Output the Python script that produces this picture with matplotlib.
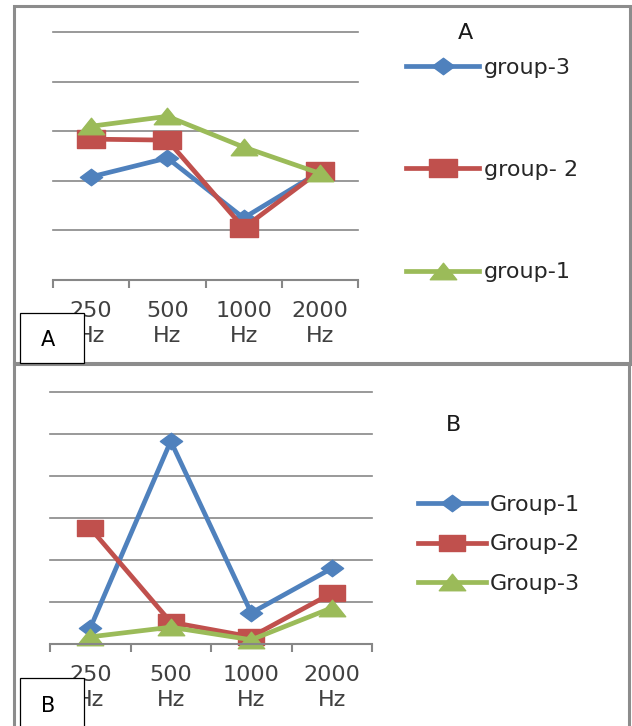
import matplotlib
matplotlib.use("Agg")
import matplotlib.pyplot as plt
from matplotlib.patches import Rectangle
from matplotlib.path import Path

# ---------------- data ----------------
categories = ["250\nHz", "500\nHz", "1000\nHz", "2000\nHz"]

labels_a = ["group-3", "group- 2", "group-1"]
group3_a = [2.08, 2.46, 1.25, 2.18]
group2_a = [2.84, 2.82, 1.05, 2.20]
group1_a = [3.10, 3.30, 2.68, 2.15]

labels_b = ["Group-1", "Group-2", "Group-3"]
group1_b = [0.38, 4.83, 0.74, 1.80]
group2_b = [2.76, 0.52, 0.17, 1.21]
group3_b = [0.17, 0.40, 0.10, 0.86]

# ---------------- style ----------------
W, H = 632, 726
BLUE, RED, GREEN = "#4F81BD", "#C0504D", "#9BBB59"
GRID = "#878787"
FS = 16

diamond = Path([(0, 1), (1.35, 0), (0, -1), (-1.35, 0), (0, 1)],
               [Path.MOVETO, Path.LINETO, Path.LINETO, Path.LINETO, Path.CLOSEPOLY])
square = Path([(-1.6, -1), (1.6, -1), (1.6, 1), (-1.6, 1), (-1.6, -1)],
              [Path.MOVETO, Path.LINETO, Path.LINETO, Path.LINETO, Path.CLOSEPOLY])
triangle = Path([(0, 1), (1.6, -1), (-1.6, -1), (0, 1)],
                [Path.MOVETO, Path.LINETO, Path.LINETO, Path.CLOSEPOLY])


def fx(px):
    return px / W


def fy(py):
    return 1 - py / H


fig = plt.figure(figsize=(W / 100, H / 100), dpi=100)
plt.rcParams["font.family"] = ["DejaVu Sans"]

# panel borders
fig.patches.append(Rectangle((fx(14), fy(364)), fx(630) - fx(14), fy(6) - fy(364),
                             transform=fig.transFigure, fill=False,
                             edgecolor="#8c8c8c", linewidth=2.2, zorder=0))
fig.patches.append(Rectangle((fx(14), fy(740)), fx(629) - fx(14), fy(363) - fy(740),
                             transform=fig.transFigure, fill=False,
                             edgecolor="#8c8c8c", linewidth=2.2, zorder=0))


def style_axes(ax, ymax):
    x = list(range(len(categories)))
    ax.set_xlim(-0.5, len(categories) - 0.5)
    ax.set_ylim(0, ymax)
    ax.set_yticks(range(1, ymax + 1))
    ax.yaxis.grid(True, color=GRID, linewidth=1.2)
    for gl in ax.get_ygridlines():
        gl.set_clip_on(False)
    ax.set_axisbelow(True)
    ax.tick_params(axis="y", left=False, labelleft=False)
    for s in ("top", "left", "right"):
        ax.spines[s].set_visible(False)
    ax.spines["bottom"].set_color(GRID)
    ax.spines["bottom"].set_linewidth(1.5)
    ax.set_xticks(x)
    ax.set_xticklabels(categories, fontsize=FS, color="#404040", linespacing=1.35)
    ax.tick_params(axis="x", which="major", length=0, pad=15)
    ax.set_xticks([i - 0.5 for i in range(len(categories) + 1)], minor=True)
    ax.tick_params(axis="x", which="minor", length=6, width=1.5, color=GRID, direction="out")
    ax.patch.set_alpha(0)
    return x


lw = 3.4

# ---------------- panel A ----------------
axA = fig.add_axes([fx(53), fy(280), fx(358) - fx(53), fy(32) - fy(280)])
xA = style_axes(axA, 5)
hA = [
    axA.plot(xA, group3_a, color=BLUE, lw=lw, marker=diamond, ms=16, label=labels_a[0])[0],
    axA.plot(xA, group2_a, color=RED, lw=lw, marker=square, ms=20, label=labels_a[1])[0],
    axA.plot(xA, group1_a, color=GREEN, lw=lw, marker=triangle, ms=19, label=labels_a[2])[0],
]
for h in hA:
    h.set_clip_on(False)
axA.legend(handles=hA, loc="upper left", bbox_to_anchor=(fx(406), fy(58)),
           bbox_transform=fig.transFigure, frameon=False, fontsize=FS,
           labelspacing=3.7, handlelength=3.3, handletextpad=0.2,
           borderpad=0, borderaxespad=0, labelcolor="#262626")
fig.text(fx(465), fy(33), "A", fontsize=FS, ha="center", va="center", color="#1a1a1a")

# ---------------- panel B ----------------
axB = fig.add_axes([fx(50), fy(644), fx(372) - fx(50), fy(392) - fy(644)])
xB = style_axes(axB, 6)
hB = [
    axB.plot(xB, group1_b, color=BLUE, lw=lw, marker=diamond, ms=16, label=labels_b[0])[0],
    axB.plot(xB, group2_b, color=RED, lw=lw, marker=square, ms=19, label=labels_b[1])[0],
    axB.plot(xB, group3_b, color=GREEN, lw=lw, marker=triangle, ms=19, label=labels_b[2])[0],
]
for h in hB:
    h.set_clip_on(False)
axB.legend(handles=hB, loc="upper left", bbox_to_anchor=(fx(418), fy(495)),
           bbox_transform=fig.transFigure, frameon=False, fontsize=FS,
           labelspacing=0.87, handlelength=3.05, handletextpad=0.2,
           borderpad=0, borderaxespad=0, labelcolor="#262626")
fig.text(fx(453), fy(425), "B", fontsize=FS, ha="center", va="center", color="#1a1a1a")

# ---------------- corner label boxes ----------------
fig.patches.append(Rectangle((fx(20), fy(363)), fx(84) - fx(20), fy(313) - fy(363),
                             transform=fig.transFigure, facecolor="white",
                             edgecolor="black", linewidth=0.9, zorder=5))
fig.text(fx(48), fy(340), "A", fontsize=15, ha="center", va="center", zorder=6)
fig.patches.append(Rectangle((fx(20), fy(740)), fx(84) - fx(20), fy(678) - fy(740),
                             transform=fig.transFigure, facecolor="white",
                             edgecolor="black", linewidth=0.9, zorder=5))
fig.text(fx(48), fy(706), "B", fontsize=15, ha="center", va="center", zorder=6)

fig.savefig("out.png", dpi=100)
